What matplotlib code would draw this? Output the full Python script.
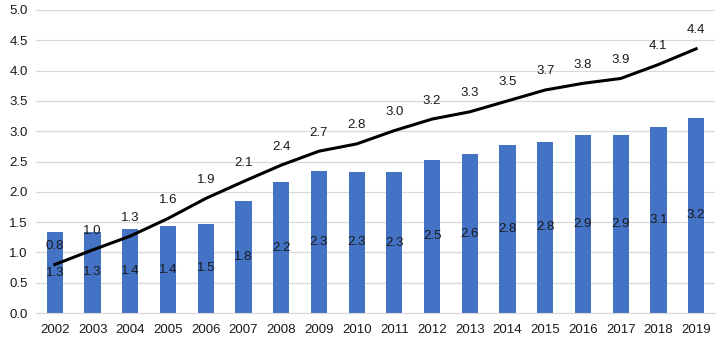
import matplotlib
matplotlib.use("Agg")
import matplotlib.pyplot as plt
import numpy as np

years = [str(y) for y in range(2002, 2020)]
bar_values = [1.33, 1.34, 1.39, 1.43, 1.47, 1.84, 2.16, 2.35, 2.33, 2.32, 2.53, 2.62, 2.77, 2.83, 2.94, 2.93, 3.07, 3.22]
bar_labels = ["1.3", "1.3", "1.4", "1.4", "1.5", "1.8", "2.2", "2.3", "2.3", "2.3", "2.5", "2.6", "2.8", "2.8", "2.9", "2.9", "3.1", "3.2"]
line_values = [0.80, 1.04, 1.27, 1.56, 1.89, 2.17, 2.44, 2.67, 2.79, 3.01, 3.20, 3.32, 3.50, 3.68, 3.79, 3.87, 4.10, 4.36]
line_labels = ["0.8", "1.0", "1.3", "1.6", "1.9", "2.1", "2.4", "2.7", "2.8", "3.0", "3.2", "3.3", "3.5", "3.7", "3.8", "3.9", "4.1", "4.4"]
yticks = [0.0, 0.5, 1.0, 1.5, 2.0, 2.5, 3.0, 3.5, 4.0, 4.5, 5.0]

plt.rcParams['font.family'] = ['Liberation Sans', 'DejaVu Sans']
fig = plt.figure(figsize=(7.21, 3.41), dpi=100)
ax = fig.add_axes([36/721, 1 - 313/341, (715-36)/721, (313-10)/341])

x = np.arange(len(years))
ax.bar(x, bar_values, width=0.43, color='#4472C4', zorder=2)
ax.plot(x, line_values, color='black', linewidth=2.2, zorder=3)

for xi, v, lab in zip(x, bar_values, bar_labels):
    ax.text(xi, v / 2, lab, ha='center', va='center', fontsize=9.5, color='#1a1a1a', zorder=4)
for xi, v, lab in zip(x, line_values, line_labels):
    ax.annotate(lab, (xi, v), xytext=(0, 9), textcoords='offset points',
                ha='center', va='bottom', fontsize=9.5, color='#1a1a1a', zorder=4)

ax.set_xlim(-0.5, len(years) - 0.5)
ax.set_ylim(0, 5.0)
ax.set_yticks(yticks)
ax.set_yticklabels([f"{t:.1f}" for t in yticks])
ax.set_xticks(x)
ax.set_xticklabels(years)
ax.grid(axis='y', color='#d9d9d9', linewidth=0.9, zorder=0)
ax.set_axisbelow(True)
for s in ['top', 'right', 'left']:
    ax.spines[s].set_visible(False)
ax.spines['bottom'].set_color('#d9d9d9')
ax.tick_params(axis='both', length=0, labelsize=9.5, colors='#1a1a1a')
ax.tick_params(axis='y', pad=6)
ax.tick_params(axis='x', pad=8)

fig.savefig('out.png', dpi=100)
